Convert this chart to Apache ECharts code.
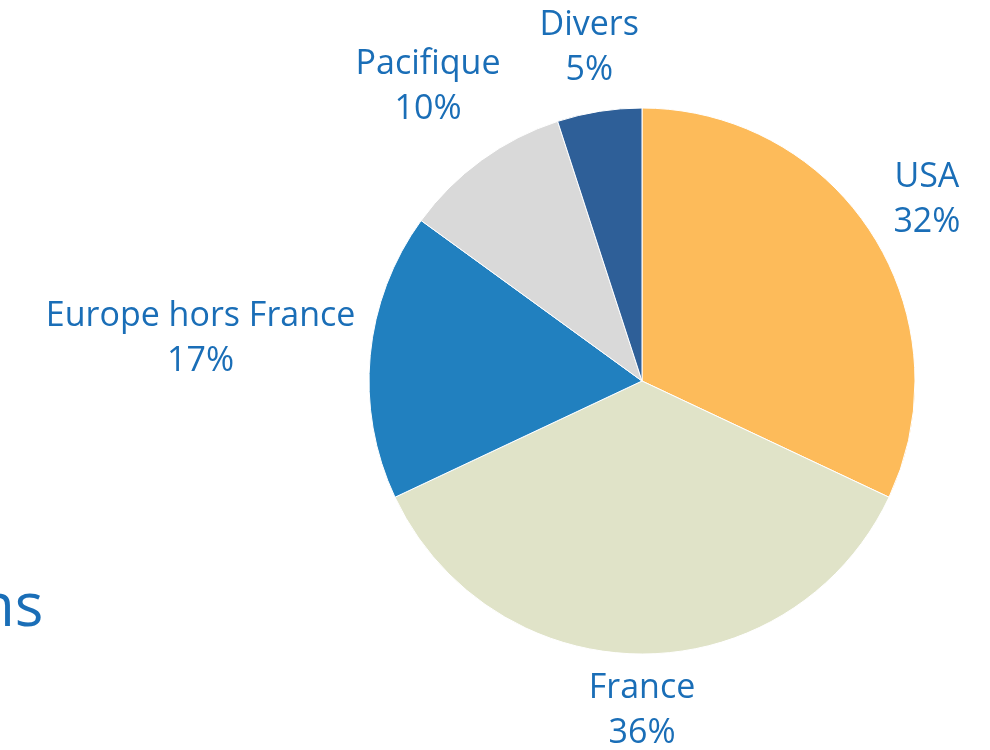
<!DOCTYPE html>
<html>
<head>
<meta charset="utf-8">
<script src="https://cdn.jsdelivr.net/npm/echarts@6/dist/echarts.min.js"></script>
<style>
  html, body { margin: 0; padding: 0; background: #fff; }
  #main { width: 990px; height: 750px; }
</style>
</head>
<body>
<div id="main"></div>
<script>
// données du camembert
var regions = ['USA', 'France', 'Europe hors France', 'Pacifique', 'Divers'];
var parts = [32, 36, 17, 10, 5];
var couleurs = ['#FDBB5A', '#E0E3C8', '#2180BF', '#D9D9D9', '#2E5F98'];

var centre = [642, 381];
var rayon = 273;
var ecart = 12; // distance entre le bord du camembert et l'étiquette

var total = parts.reduce(function (a, b) { return a + b; }, 0);
// angle du milieu de chaque part, depuis midi, sens horaire
var anglesMilieu = [];
var cumul = 0;
for (var i = 0; i < parts.length; i++) {
  anglesMilieu.push((cumul + parts[i] / 2) / total * 2 * Math.PI);
  cumul += parts[i];
}

var chart = echarts.init(document.getElementById('main'));
var option = {
  animation: false,
  graphic: [{
    type: 'text',
    left: -22,
    top: 579,
    style: {
      text: 'ns',
      fontFamily: 'Open Sans',
      fontSize: 60,
      fill: '#1A6EB7'
    }
  }],
  series: [
    {
      type: 'pie',
      center: centre,
      radius: rayon,
      startAngle: 90,
      clockwise: true,
      itemStyle: {
        borderColor: '#fff',
        borderWidth: 1
      },
      label: {
        show: true,
        position: 'outside',
        alignTo: 'none',
        overflow: 'none',
        formatter: '{b}\n{d}%',
        color: '#1A6EB7',
        fontFamily: 'Open Sans',
        fontSize: 34,
        lineHeight: 45,
        align: 'center'
      },
      labelLine: { show: false },
      labelLayout: function (params) {
        var a = anglesMilieu[params.dataIndex];
        var sx = Math.sin(a), sy = -Math.cos(a);
        var hw = params.labelRect.width / 2, hh = params.labelRect.height / 2;
        var d = rayon + ecart + hw * Math.abs(sx) + hh * Math.abs(sy);
        return {
          x: centre[0] + d * sx,
          y: centre[1] + d * sy,
          align: 'center',
          verticalAlign: 'middle',
          moveOverlap: false
        };
      },
      data: regions.map(function (r, i) {
        return { name: r, value: parts[i], itemStyle: { color: couleurs[i] } };
      })
    }
  ]
};
chart.setOption(option);
</script>
</body>
</html>
